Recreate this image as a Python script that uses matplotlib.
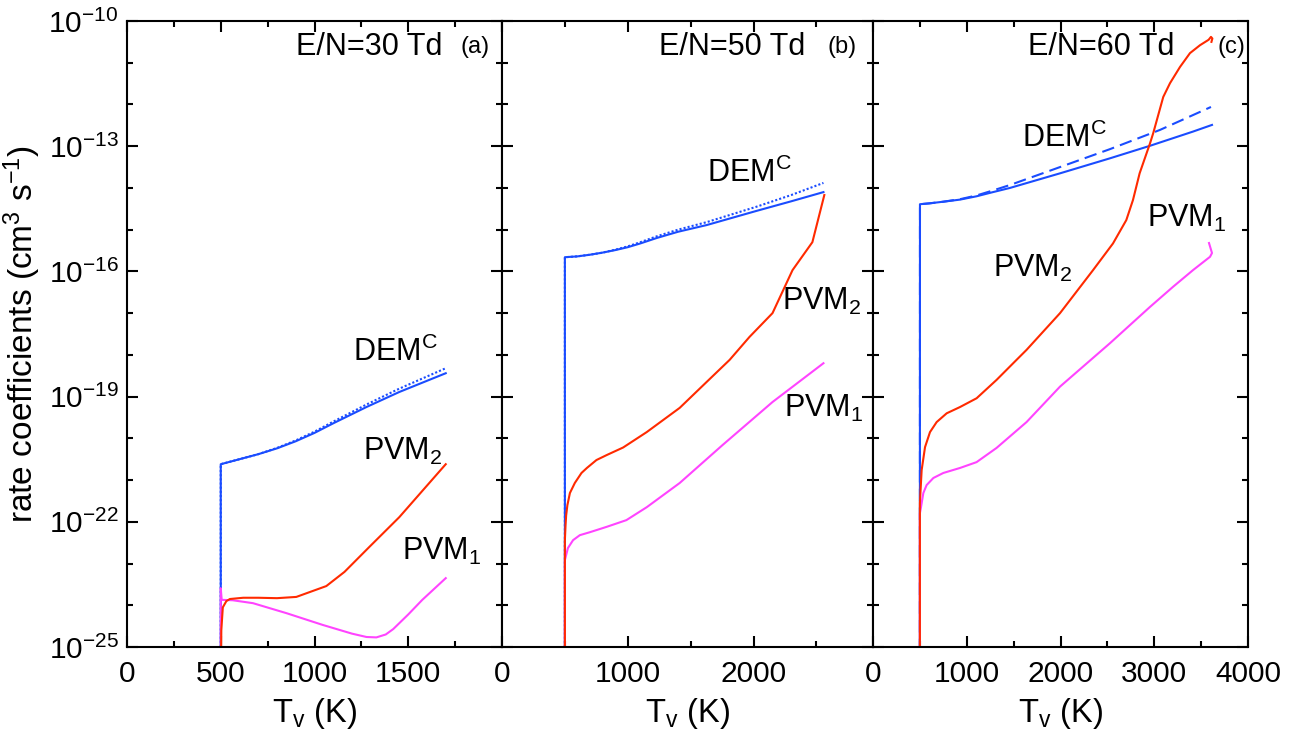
# rate coefficients vs vibrational temperature, three E/N panels

import numpy as np
import matplotlib
matplotlib.use('Agg')
from matplotlib import pyplot as plt
from matplotlib.ticker import FixedLocator, NullFormatter, LogFormatterMathtext

plt.rcParams['font.family'] = ['Liberation Sans', 'DejaVu Sans']
plt.rcParams['mathtext.fontset'] = 'custom'
plt.rcParams['mathtext.rm'] = 'Liberation Sans'
plt.rcParams['mathtext.it'] = 'Liberation Sans:italic'
plt.rcParams['mathtext.bf'] = 'Liberation Sans:bold'

BLUE = '#1a4cff'
RED = '#ff2a00'
MAGENTA = '#ff44ff'

# --- E/N = 30 Td ---  (log10 of the rate coefficient)
a_dem_T = [500, 500, 600, 700, 800, 900, 1000, 1100, 1277, 1452, 1700]
a_dem = [-26, -20.62, -20.50, -20.38, -20.24, -20.07, -19.87, -19.64, -19.25, -18.89, -18.44]
a_demd_T = [500, 500, 600, 700, 800, 900, 1000, 1100, 1277, 1452, 1700]
a_demd = [-26, -20.62, -20.50, -20.38, -20.23, -20.05, -19.84, -19.60, -19.19, -18.81, -18.32]
a_pvm2_T = [500, 503, 511, 530, 549, 620, 700, 800, 903, 1063, 1160, 1293, 1452, 1700]
a_pvm2 = [-26, -24.6, -24.05, -23.90, -23.85, -23.82, -23.82, -23.83, -23.80, -23.54, -23.20, -22.60, -21.89, -20.62]
a_pvm1_T = [500, 500, 505, 564, 672, 851, 1043, 1200, 1277, 1330, 1380, 1420, 1452, 1500, 1575, 1700]
a_pvm1 = [-26, -23.59, -23.87, -23.88, -23.95, -24.19, -24.47, -24.68, -24.76, -24.77, -24.70, -24.57,
          -24.43, -24.22, -23.87, -23.35]

# --- E/N = 50 Td ---
b_dem_T = [500, 500, 600, 700, 800, 900, 1000, 1100, 1230, 1400, 1627, 2024, 2300, 2556]
b_dem = [-26, -15.66, -15.64, -15.60, -15.55, -15.49, -15.42, -15.33, -15.20, -15.05, -14.89, -14.55, -14.32, -14.10]
b_demd_T = [500, 500, 600, 700, 800, 900, 1000, 1100, 1230, 1400, 1627, 2024, 2300, 2556]
b_demd = [-26, -15.66, -15.64, -15.60, -15.55, -15.48, -15.40, -15.30, -15.16, -15.00, -14.82, -14.45, -14.17, -13.88]
b_pvm2_T = [500, 500, 505, 510, 520, 540, 579, 632, 675, 751, 833, 963, 1151, 1413, 1651, 1810,
            1968, 2151, 2310, 2468, 2563]
b_pvm2 = [-26, -22.44, -22.10, -21.85, -21.60, -21.31, -21.07, -20.83, -20.71, -20.52, -20.40, -20.22,
          -19.85, -19.27, -18.58, -18.12, -17.57, -17.00, -15.97, -15.30, -14.17]
b_pvm1_T = [500, 500, 524, 565, 619, 698, 833, 989, 1151, 1413, 1754, 2151, 2556]
b_pvm1 = [-26, -22.92, -22.63, -22.44, -22.32, -22.25, -22.12, -21.96, -21.65, -21.07, -20.16, -19.13, -18.20]

# --- E/N = 60 Td ---
c_dem_T = [500, 501, 600, 750, 928, 1105, 1280, 1461, 1995, 2528, 2955, 3413, 3616]
c_dem = [-26, -14.39, -14.37, -14.33, -14.28, -14.20, -14.10, -14.00, -13.65, -13.29, -12.99, -12.65, -12.49]
c_demd_T = [500, 501, 600, 750, 928, 1105, 1280, 1461, 1995, 2528, 3061, 3605]
c_demd = [-26, -14.39, -14.37, -14.33, -14.27, -14.18, -14.06, -13.93, -13.50, -13.07, -12.61, -12.06]
c_pvm2_T = [500, 500, 519, 555, 608, 679, 786, 928, 1105, 1318, 1531, 1638, 1995, 2347, 2560, 2702,
            2773, 2844, 2955, 2990, 3096, 3168, 3275, 3381, 3488, 3580, 3605, 3620, 3610]
c_pvm2 = [-26, -21.55, -20.76, -20.21, -19.85, -19.61, -19.40, -19.25, -19.04, -18.60, -18.12, -17.88,
          -17.00, -15.97, -15.33, -14.77, -14.29, -13.65, -12.93, -12.68, -11.82, -11.49, -11.10, -10.77,
          -10.58, -10.45, -10.38, -10.42, -10.50]
c_pvm1_T = [500, 500, 512, 537, 572, 644, 750, 928, 1105, 1318, 1638, 1995, 2528, 2955, 3200, 3413,
            3595, 3616, 3584]
c_pvm1 = [-26, -21.8, -21.65, -21.31, -21.12, -20.95, -20.83, -20.71, -20.57, -20.23, -19.61, -18.76,
          -17.72, -16.85, -16.37, -15.97, -15.65, -15.56, -15.32]

panels = [
    dict(title='E/N=30 Td', tag='(a)', xmax=2000, major=500, minor=250,
         dem=(a_dem_T, a_dem), demd=(a_demd_T, a_demd), ls_d=(0, (1, 1)),
         pvm2=(a_pvm2_T, a_pvm2), pvm1=(a_pvm1_T, a_pvm1),
         lab_dem=(1205, -18.15), lab_p2=(1259, -20.52), lab_p1=(1467, -22.92),
         tx=0.84, gx=0.968),
    dict(title='E/N=50 Td', tag='(b)', xmax=2950, major=1000, minor=500,
         dem=(b_dem_T, b_dem), demd=(b_demd_T, b_demd), ls_d=(0, (1, 1)),
         pvm2=(b_pvm2_T, b_pvm2), pvm1=(b_pvm1_T, b_pvm1),
         lab_dem=(1627, -13.86), lab_p2=(2230, -16.93), lab_p1=(2246, -19.49),
         tx=0.817, gx=0.957),
    dict(title='E/N=60 Td', tag='(c)', xmax=4000, major=1000, minor=500,
         dem=(c_dem_T, c_dem), demd=(c_demd_T, c_demd), ls_d=(0, (6, 3)),
         pvm2=(c_pvm2_T, c_pvm2), pvm1=(c_pvm1_T, c_pvm1),
         lab_dem=(1589, -13.02), lab_p2=(1280, -16.13), lab_p1=(2923, -14.94),
         tx=0.805, gx=0.992),
]

W, H = 1295, 738
fig = plt.figure(figsize=(W / 100, H / 100), dpi=100)
edges = [127, 502, 873, 1248]
bottom, top = 647, 21

axes = []
for i, p in enumerate(panels):
    rect = [edges[i] / W, 1 - bottom / H, (edges[i + 1] - edges[i]) / W, (bottom - top) / H]
    ax = fig.add_axes(rect, sharey=axes[0] if axes else None)
    axes.append(ax)
    lw = 1.5

    T, v = p['demd']
    ax.plot(T, 10.0 ** np.array(v), color=BLUE, lw=lw, ls=p['ls_d'])
    T, v = p['dem']
    ax.plot(T, 10.0 ** np.array(v), color=BLUE, lw=lw)
    T, v = p['pvm1']
    ax.plot(T, 10.0 ** np.array(v), color=MAGENTA, lw=lw)
    T, v = p['pvm2']
    ax.plot(T, 10.0 ** np.array(v), color=RED, lw=lw)

    ax.set_yscale('log')
    ax.set_ylim(1e-25, 1e-10)
    ax.set_xlim(0, p['xmax'])

    ax.yaxis.set_major_locator(FixedLocator(10.0 ** np.arange(-25, -9, 3)))
    ax.yaxis.set_minor_locator(FixedLocator(10.0 ** np.arange(-25, -9, 1)))
    ax.yaxis.set_minor_formatter(NullFormatter())
    xt = np.arange(0, p['xmax'] + 1, p['major'])
    ax.xaxis.set_major_locator(FixedLocator(xt))
    ax.xaxis.set_minor_locator(FixedLocator(np.arange(0, p['xmax'] + 1, p['minor'])))
    ax.set_xticklabels(['' if t >= 2000 and i == 0 else str(int(t)) for t in xt])

    ax.tick_params(which='both', direction='in', top=True, right=True, width=1.5,
                   labelsize=21.5)
    ax.tick_params(which='major', length=8)
    ax.tick_params(which='minor', length=4.5)
    ax.tick_params(axis='x', pad=9)
    ax.tick_params(axis='y', pad=6)
    for s in ax.spines.values():
        s.set_linewidth(1.5)

    if i == 0:
        ax.yaxis.set_major_formatter(LogFormatterMathtext())
    else:
        ax.tick_params(axis='y', labelleft=False)

    ax.set_xlabel('T$_\\mathrm{v}$ (K)', fontsize=23.5, labelpad=6)

    ax.text(p['tx'], 0.958, p['title'], transform=ax.transAxes, fontsize=22,
            ha='right', va='center')
    ax.text(p['gx'], 0.958, p['tag'], transform=ax.transAxes, fontsize=17,
            ha='right', va='center')

    x, y = p['lab_dem']
    ax.text(x, 10.0 ** y, 'DEM$^\\mathrm{C}$', fontsize=22, ha='left', va='baseline')
    x, y = p['lab_p2']
    ax.text(x, 10.0 ** y, 'PVM$_\\mathrm{2}$', fontsize=22, ha='left', va='baseline')
    x, y = p['lab_p1']
    ax.text(x, 10.0 ** y, 'PVM$_\\mathrm{1}$', fontsize=22, ha='left', va='baseline')

axes[0].set_ylabel('rate coefficients (cm$^\\mathrm{3}$ s$^\\mathrm{-1}$)', fontsize=24, labelpad=4)

fig.savefig('out.png', dpi=100)
